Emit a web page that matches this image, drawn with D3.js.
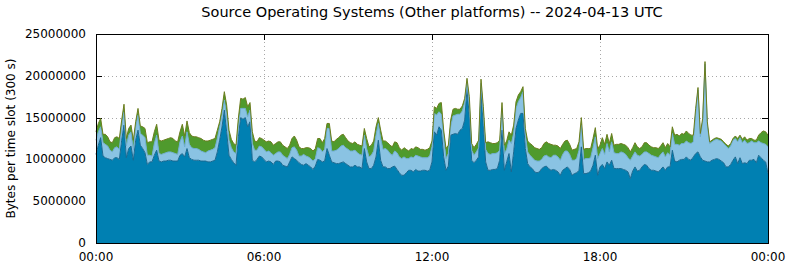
<!DOCTYPE html>
<html lang="en">
<head>
    <meta charset="UTF-8">
    <title>Source Operating Systems (Other platforms) -- 2024-04-13 UTC</title>
    <script src="https://d3js.org/d3.v7.min.js"></script>
    <style>
        body { margin: 0; background: #fff; }
        text { font-family: "DejaVu Sans", sans-serif; fill: #000; }
        .grid line { stroke: #a8a8a8; stroke-width: 1; stroke-dasharray: 1,3; }
        .tick-mark { stroke: #000; stroke-width: 1; }
    </style>
</head>
<body>
<svg height="267" width="790"></svg>

<script>
    // bytes per 300 s slot, in millions, one value per slot from 00:00 to 24:00
    const platformDark = [
        10.6,11.7,12.6,10.4,10.2,10.1,10.0,9.9,10.2,10.2,
        10.0,12.3,14.1,10.2,11.3,11.6,9.9,12.3,13.5,11.7,
        11.3,10.8,9.4,9.7,9.7,10.5,11.1,9.8,9.7,9.8,
        9.8,9.9,9.9,9.8,9.8,9.8,10.5,10.7,10.3,11.3,
        10.2,10.0,9.9,9.9,9.9,9.8,9.8,9.8,9.7,9.7,
        9.8,9.9,10.9,12.3,13.9,15.9,13.3,10.5,10.0,9.6,
        9.3,12.7,15.0,14.8,15.0,13.9,14.5,9.9,9.7,10.0,
        10.4,10.3,10.0,9.7,9.8,9.7,9.4,9.8,9.8,9.7,
        9.3,9.2,9.1,9.7,10.3,10.1,9.9,9.6,9.4,9.3,
        9.5,9.3,9.1,8.8,9.2,10.0,9.9,9.7,9.8,11.3,
        10.5,9.7,9.6,9.5,9.5,9.6,9.7,9.5,9.3,9.1,
        9.1,9.3,9.1,9.1,8.9,11.3,9.7,8.9,8.9,9.3,
        10.3,12.3,9.9,9.1,9.1,8.9,8.9,9.1,9.2,8.8,
        8.4,8.1,8.1,8.4,8.7,8.7,8.5,8.8,8.6,8.6,
        8.7,8.7,8.6,8.7,9.7,13.3,12.9,13.9,13.5,10.3,
        8.7,9.2,12.9,13.0,13.1,13.0,13.5,13.7,14.7,18.4,
        15.1,9.9,9.6,9.9,10.3,17.9,14.1,9.7,8.7,8.7,
        8.8,8.8,8.9,9.9,13.5,8.7,9.7,10.7,8.5,10.9,
        13.7,14.7,15.5,15.5,11.3,9.5,9.1,8.9,8.5,8.4,
        8.5,8.9,9.1,9.2,8.9,8.7,8.8,8.7,8.5,8.1,
        8.7,8.9,9.1,8.8,8.1,8.3,8.4,8.7,11.5,8.3,
        8.3,8.4,8.6,9.3,10.5,8.1,9.1,9.4,8.9,9.7,
        9.3,9.9,8.9,8.9,8.9,8.9,8.8,8.7,8.5,7.7,
        8.6,9.1,8.6,8.7,9.1,9.4,9.3,8.9,8.7,8.7,
        8.6,8.5,8.8,9.1,8.7,9.1,9.1,11.1,9.8,9.7,
        9.9,10.0,10.0,10.3,10.0,9.9,10.3,10.7,10.9,10.3,
        9.9,9.8,9.7,9.7,9.9,10.0,10.1,10.0,9.8,9.6,
        9.1,9.1,9.4,9.9,10.3,9.5,10.2,9.5,9.6,9.5,
        9.9,9.9,10.0,9.6,10.5,10.2,9.9,9.7,8.3
    ];
    const platformLight = [
        1.7,1.6,1.3,1.6,1.6,1.5,1.1,1.0,1.2,1.3,
        1.2,1.6,1.6,1.4,1.6,1.7,1.2,1.6,1.8,1.4,
        1.6,1.8,1.1,0.8,0.7,1.4,1.8,0.9,0.9,0.9,
        1.0,1.0,1.0,1.0,0.9,0.8,1.6,2.1,1.2,2.0,
        1.6,1.4,1.4,1.4,1.3,1.2,1.1,1.0,1.3,1.4,
        1.4,1.5,1.6,1.6,1.4,1.2,2.0,1.8,1.4,1.3,
        1.4,1.2,1.1,1.3,1.1,1.2,1.4,2.0,1.4,1.1,
        1.2,1.2,1.2,1.2,1.2,1.1,1.1,0.9,1.1,1.2,
        1.2,1.1,1.0,0.9,1.1,1.4,1.2,0.8,1.0,1.3,
        0.9,1.0,1.0,1.0,0.9,1.4,1.4,1.2,1.4,2.4,
        3.2,1.3,1.4,1.6,1.8,2.0,2.0,1.9,1.9,1.9,
        1.9,1.8,1.7,1.5,1.6,1.6,1.6,1.4,1.6,1.7,
        2.6,2.0,2.6,2.1,2.2,2.2,1.8,1.4,1.8,2.0,
        1.9,2.0,2.2,1.7,1.4,1.6,1.7,1.7,1.8,1.7,
        1.5,1.5,1.6,1.7,1.8,2.2,2.4,1.8,1.9,2.4,
        1.4,1.5,1.0,2.2,2.2,2.4,1.9,2.1,2.1,0.7,
        1.6,1.2,0.9,1.0,1.1,1.2,1.4,1.5,2.0,1.9,
        1.9,1.9,1.9,1.2,2.6,2.0,1.5,1.6,3.4,2.2,
        2.4,2.2,1.9,2.6,1.6,1.4,1.4,1.3,1.4,1.4,
        1.3,1.1,1.3,1.3,1.4,1.5,1.7,1.8,1.8,1.8,
        1.9,2.1,1.9,1.8,1.8,1.6,1.7,2.4,2.6,1.7,
        1.8,1.7,1.6,2.1,2.2,2.0,1.6,1.9,1.7,2.2,
        1.6,2.2,1.9,1.8,1.8,2.0,2.0,1.9,1.7,2.2,
        1.8,1.8,1.9,1.7,1.5,1.5,1.6,1.8,1.8,1.7,
        1.7,1.7,1.8,1.8,1.6,1.7,1.4,2.0,2.0,2.1,
        1.8,1.9,1.9,1.9,2.0,2.0,1.8,4.8,7.4,2.4,
        4.6,11.6,4.4,2.2,2.2,2.3,2.3,2.3,2.4,2.3,
        2.5,2.2,2.2,2.4,2.2,2.6,2.4,2.5,2.7,2.4,
        2.1,2.3,2.0,2.4,1.7,1.8,2.0,2.1,3.2
    ];
    const platformGreen = [
        1.0,1.0,1.0,1.0,1.2,1.1,1.0,1.1,1.2,1.2,
        1.3,0.8,0.9,0.9,0.8,0.8,1.2,0.6,0.8,0.9,
        1.0,1.1,1.5,1.6,1.7,1.4,1.3,1.6,1.6,1.6,
        1.6,1.6,1.7,1.7,1.5,1.5,1.2,1.4,1.3,1.3,
        1.4,1.4,1.4,1.4,1.4,1.5,1.4,1.4,1.2,1.2,
        1.2,1.1,1.0,0.6,0.8,1.0,1.2,1.2,1.0,1.0,
        1.0,1.0,1.2,1.1,1.3,1.2,0.9,1.4,1.1,1.0,
        1.0,1.0,1.1,1.2,1.2,1.3,1.2,1.2,1.2,1.2,
        1.2,1.2,1.2,1.1,1.1,1.3,1.2,1.1,0.9,0.7,
        1.0,1.1,1.2,1.2,1.2,1.1,1.2,1.1,1.3,0.6,
        0.6,1.2,1.1,1.3,1.3,1.3,1.3,1.2,1.0,1.0,
        0.9,1.0,1.0,1.1,1.1,0.8,1.2,1.2,1.2,1.2,
        1.0,0.7,1.0,1.0,0.9,0.9,1.0,1.0,1.1,1.2,
        1.1,1.0,1.1,1.1,0.9,1.0,1.0,1.0,1.0,0.9,
        1.0,0.9,1.0,1.0,0.7,0.8,0.8,1.0,1.4,0.8,
        1.2,1.0,0.8,0.8,0.8,0.6,0.6,0.6,0.5,0.6,
        0.8,0.8,0.9,0.9,0.9,0.5,0.8,0.8,1.4,1.4,
        1.2,1.2,1.2,1.2,0.7,1.0,1.0,1.0,1.0,1.0,
        0.8,0.8,0.7,0.6,0.8,1.3,1.4,1.5,1.5,1.5,
        1.4,1.4,1.5,1.6,1.6,1.6,1.2,1.2,1.3,1.4,
        1.2,1.2,1.3,1.2,1.2,1.3,1.2,1.0,0.9,1.2,
        1.2,1.2,1.1,1.1,1.1,1.2,1.0,1.3,1.2,1.1,
        1.0,1.0,0.9,1.1,1.1,1.0,1.0,1.1,1.2,1.0,
        1.0,1.1,1.0,0.9,0.9,1.1,1.1,1.0,1.0,1.0,
        1.1,1.1,1.0,1.1,1.1,1.1,1.0,0.8,1.1,1.2,
        1.1,1.2,1.1,1.2,1.1,1.0,0.8,0.6,0.3,0.4,
        0.4,0.3,0.4,0.2,0.2,0.2,0.2,0.2,0.2,0.2,
        0.2,0.3,0.3,0.2,0.3,0.4,0.3,0.4,0.4,0.4,
        0.5,0.3,0.3,0.3,0.7,1.2,1.5,1.5,1.4
    ];

    const xTickHours  = [0, 6, 12, 18, 24];
    const xTickLabels = ["00:00", "06:00", "12:00", "18:00", "00:00"];
    const yTickValues = [0, 5000000, 10000000, 15000000, 20000000, 25000000];

    const slotMinutes = 5;

    const svg = d3.select("svg");

    const plotLeft = 96, plotRight = 768, plotTop = 34, plotBottom = 243;

    const x = d3.scaleLinear().domain([0, 24]).range([plotLeft, plotRight]);
    const y = d3.scaleLinear().domain([0, 25000000]).range([plotBottom, plotTop]);

    const rows = platformDark.map(function(d, i) {
        return {
            hour:  i * slotMinutes / 60,
            dark:  d * 1e6,
            light: platformLight[i] * 1e6,
            green: platformGreen[i] * 1e6
        };
    });

    const keys = ["dark", "light", "green"];
    const fills   = {dark: "#0080b2", light: "#8ac3e3", green: "#4f9a2d"};
    const strokes = {dark: "#1a6890", light: "#6eaed2", green: "#6b7d1e"};

    const layers = d3.stack().keys(keys)(rows);

    // grid
    const grid = svg.append("g").attr("class", "grid");
    grid.selectAll("line.h")
        .data(yTickValues.slice(1, -1))
        .enter().append("line")
        .attr("x1", plotLeft).attr("x2", plotRight)
        .attr("y1", d => Math.round(y(d)) + 0.5).attr("y2", d => Math.round(y(d)) + 0.5);
    grid.selectAll("line.v")
        .data(xTickHours.slice(1, -1))
        .enter().append("line")
        .attr("y1", plotTop).attr("y2", plotBottom)
        .attr("x1", d => Math.round(x(d)) + 0.5).attr("x2", d => Math.round(x(d)) + 0.5);

    // inward tick marks on all four sides
    const ticks = svg.append("g");
    yTickValues.forEach(function(v) {
        const yy = Math.round(y(v)) + 0.5;
        ticks.append("line").attr("class", "tick-mark")
            .attr("x1", plotLeft).attr("x2", plotLeft + 6).attr("y1", yy).attr("y2", yy);
        ticks.append("line").attr("class", "tick-mark")
            .attr("x1", plotRight - 6).attr("x2", plotRight).attr("y1", yy).attr("y2", yy);
    });
    xTickHours.forEach(function(h) {
        const xx = Math.round(x(h)) + 0.5;
        ticks.append("line").attr("class", "tick-mark")
            .attr("x1", xx).attr("x2", xx).attr("y1", plotTop).attr("y2", plotTop + 6);
        ticks.append("line").attr("class", "tick-mark")
            .attr("x1", xx).attr("x2", xx).attr("y1", plotBottom - 6).attr("y2", plotBottom);
    });

    // stacked areas
    const area = d3.area()
        .x(d => x(d.data.hour))
        .y0(d => y(d[0]))
        .y1(d => y(d[1]));
    const topLine = d3.line()
        .x(d => x(d.data.hour))
        .y(d => y(d[1]));

    svg.append("g").selectAll("path")
        .data(layers)
        .enter().append("path")
        .attr("d", area)
        .attr("fill", d => fills[d.key]);

    svg.append("g").selectAll("path")
        .data(layers)
        .enter().append("path")
        .attr("d", topLine)
        .attr("fill", "none")
        .attr("stroke-width", 1)
        .attr("stroke", d => strokes[d.key]);

    // frame
    svg.append("rect")
        .attr("x", plotLeft + 0.5).attr("y", plotTop + 0.5)
        .attr("width", plotRight - plotLeft).attr("height", plotBottom - plotTop)
        .attr("fill", "none").attr("stroke", "#000").attr("stroke-width", 1);

    // tick labels
    svg.append("g").selectAll("text")
        .data(yTickValues)
        .enter().append("text")
        .attr("x", plotLeft - 10)
        .attr("y", d => y(d))
        .attr("dy", "0.34em")
        .attr("text-anchor", "end")
        .style("font-size", "12px")
        .text(d => d3.format("d")(d));

    svg.append("g").selectAll("text")
        .data(xTickHours)
        .enter().append("text")
        .attr("x", d => x(d))
        .attr("y", 261)
        .attr("text-anchor", "middle")
        .style("font-size", "12px")
        .text((d, i) => xTickLabels[i]);

    svg.append("text")
        .attr("transform", "translate(15," + ((plotTop + plotBottom) / 2) + ") rotate(-90)")
        .attr("text-anchor", "middle")
        .style("font-size", "12px")
        .text("Bytes per time slot (300 s)");

    svg.append("text")
        .attr("x", (plotLeft + plotRight) / 2)
        .attr("y", 17)
        .attr("text-anchor", "middle")
        .style("font-size", "14.5px")
        .text("Source Operating Systems (Other platforms) -- 2024-04-13 UTC");
</script>

</body>
</html>
